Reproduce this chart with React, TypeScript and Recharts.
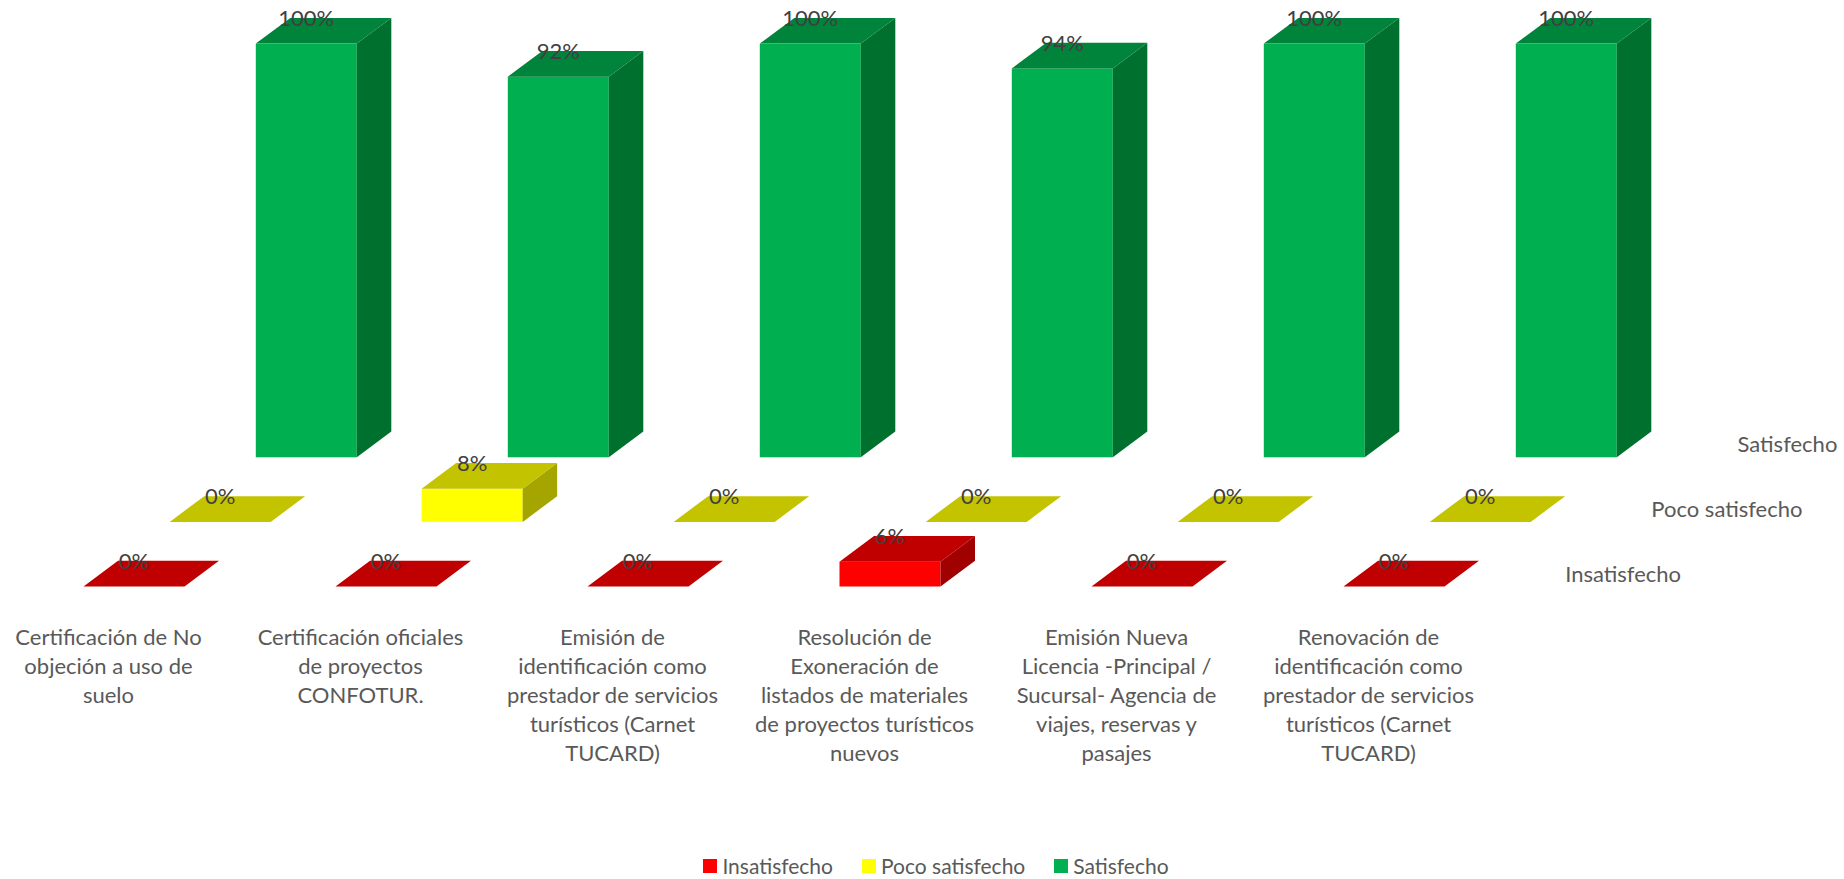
import React from 'react';
import { BarChart, Bar, XAxis, YAxis, LabelList, Legend } from 'recharts';

const categories = [
  'Certificación de No objeción a uso de suelo',
  'Certificación oficiales de proyectos CONFOTUR.',
  'Emisión de identificación como prestador de servicios turísticos (Carnet TUCARD)',
  'Resolución de Exoneración de listados de materiales de proyectos turísticos nuevos',
  'Emisión Nueva Licencia -Principal / Sucursal- Agencia de viajes, reservas y pasajes',
  'Renovación de identificación como prestador de servicios turísticos (Carnet TUCARD)',
];

const tickLines = [
  ['Certificación de No', 'objeción a uso de', 'suelo'],
  ['Certificación oficiales', 'de proyectos', 'CONFOTUR.'],
  ['Emisión de', 'identificación como', 'prestador de servicios', 'turísticos (Carnet', 'TUCARD)'],
  ['Resolución de', 'Exoneración de', 'listados de materiales', 'de proyectos turísticos', 'nuevos'],
  ['Emisión Nueva', 'Licencia -Principal /', 'Sucursal- Agencia de', 'viajes, reservas y', 'pasajes'],
  ['Renovación de', 'identificación como', 'prestador de servicios', 'turísticos (Carnet', 'TUCARD)'],
];

const insatisfecho = [0, 0, 0, 0.06, 0, 0];
const pocoSatisfecho = [0, 0.08, 0, 0, 0, 0];
const satisfecho = [1, 0.92, 1, 0.94, 1, 1];

const seriesNames = ['Insatisfecho', 'Poco satisfecho', 'Satisfecho'];

const data = categories.map((c, i) => ({
  name: c,
  ins: insatisfecho[i],
  poco: pocoSatisfecho[i],
  sat: satisfecho[i],
}));

const FONT = 'Lato, "Open Sans", sans-serif';
const DX = 34.5;
const DY = 25.7;

const COLORS = {
  ins: { front: '#FF0000', top: '#C00000', side: '#A00000' },
  poco: { front: '#FFFF00', top: '#C3C300', side: '#A5A500' },
  sat: { front: '#00B050', top: '#00833A', side: '#00702F' },
};

function make3D(c: { front: string; top: string; side: string }) {
  return (props: any) => {
    const x = Number(props.x);
    const y = Number(props.y);
    const w = Number(props.width);
    const h = Math.max(0, Number(props.height) || 0);
    return (
      <g>
        {h > 0 && <rect x={x} y={y} width={w} height={h} fill={c.front} />}
        {h > 0 && (
          <polygon
            points={`${x + w},${y} ${x + w + DX},${y - DY} ${x + w + DX},${y + h - DY} ${x + w},${y + h}`}
            fill={c.side}
          />
        )}
        <polygon
          points={`${x},${y} ${x + DX},${y - DY} ${x + w + DX},${y - DY} ${x + w},${y}`}
          fill={c.top}
        />
      </g>
    );
  };
}

const valueLabel = (props: any) => {
  const vb = props.viewBox && props.viewBox.width !== undefined ? props.viewBox : props;
  const x = Number(vb.x);
  const y = Number(vb.y);
  const w = Number(vb.width);
  const v = Number(props.value);
  return (
    <text x={x + w / 2} y={y - 17.8} textAnchor="middle" fill="#404040" fontSize={22} fontFamily={FONT}>
      {`${Math.round(v * 100)}%`}
    </text>
  );
};

function depthLabel(name: string) {
  return (props: any) => {
    if (props.index !== categories.length - 1) return null;
    const vb = props.viewBox && props.viewBox.width !== undefined ? props.viewBox : props;
    const x = Number(vb.x);
    const y = Number(vb.y);
    const h = Math.max(0, Number(vb.height) || 0);
    return (
      <text x={x + 221.7} y={y + h - 5} textAnchor="start" fill="#595959" fontSize={22} fontFamily={FONT}>
        {name}
      </text>
    );
  };
}

const CategoryTick = (props: any) => {
  const { x, y, payload } = props;
  const idx = categories.indexOf(payload.value);
  const lines = tickLines[idx] || [String(payload.value)];
  return (
    <text textAnchor="middle" fill="#595959" fontSize={22} fontFamily={FONT}>
      {lines.map((l, i) => (
        <tspan key={i} x={x - 25} y={y + 58 + i * 29}>
          {l}
        </tspan>
      ))}
    </text>
  );
};

const legendItems = [
  { name: seriesNames[0], color: COLORS.ins.front },
  { name: seriesNames[1], color: COLORS.poco.front },
  { name: seriesNames[2], color: COLORS.sat.front },
];

const LegendContent = () => (
  <div
    style={{
      height: 30,
      boxSizing: 'border-box',
      paddingTop: 4,
      display: 'flex',
      justifyContent: 'center',
      alignItems: 'center',
      paddingLeft: 28,
      fontFamily: FONT,
      fontSize: 21,
      color: '#595959',
    }}
  >
    {legendItems.map((it, i) => (
      <div key={i} style={{ display: 'flex', alignItems: 'center', marginLeft: i === 0 ? 0 : 29 }}>
        <div style={{ width: 14, height: 14, background: it.color, marginRight: 5 }} />
        <span style={{ lineHeight: '26px' }}>{it.name}</span>
      </div>
    ))}
  </div>
);

export default function App() {
  return (
    <div style={{ position: 'absolute', left: 0, top: 0, width: 1844, height: 879, background: '#fff' }}>
      <BarChart width={1844} height={879} data={data} margin={{ top: 43.6, right: 0, bottom: 0, left: 0 }}>
        <XAxis
          xAxisId="ins"
          dataKey="name"
          type="category"
          padding={{ left: 7.5, right: 324.5 }}
          axisLine={false}
          tickLine={false}
          tickSize={0}
          tickMargin={0}
          height={262.5}
          interval={0}
          tick={<CategoryTick />}
        />
        <XAxis xAxisId="poco" dataKey="name" type="category" padding={{ left: 93.65, right: 238.35 }} hide />
        <XAxis xAxisId="sat" dataKey="name" type="category" padding={{ left: 179.8, right: 152.2 }} hide />
        <YAxis yAxisId="ins" type="number" domain={[0, 1]} padding={{ top: 129.2, bottom: 0 }} hide />
        <YAxis yAxisId="poco" type="number" domain={[0, 1]} padding={{ top: 64.6, bottom: 64.6 }} hide />
        <YAxis yAxisId="sat" type="number" domain={[0, 1]} padding={{ top: 0, bottom: 129.2 }} hide />
        <Legend verticalAlign="bottom" content={<LegendContent />} />
        <Bar
          xAxisId="sat"
          yAxisId="sat"
          dataKey="sat"
          name={seriesNames[2]}
          barSize={101}
          fill={COLORS.sat.front}
          shape={make3D(COLORS.sat)}
          isAnimationActive={false}
        >
          <LabelList dataKey="sat" content={valueLabel} />
          <LabelList dataKey="sat" content={depthLabel(seriesNames[2])} />
        </Bar>
        <Bar
          xAxisId="poco"
          yAxisId="poco"
          dataKey="poco"
          name={seriesNames[1]}
          barSize={101}
          fill={COLORS.poco.front}
          shape={make3D(COLORS.poco)}
          isAnimationActive={false}
        >
          <LabelList dataKey="poco" content={valueLabel} />
          <LabelList dataKey="poco" content={depthLabel(seriesNames[1])} />
        </Bar>
        <Bar
          xAxisId="ins"
          yAxisId="ins"
          dataKey="ins"
          name={seriesNames[0]}
          barSize={101}
          fill={COLORS.ins.front}
          shape={make3D(COLORS.ins)}
          isAnimationActive={false}
        >
          <LabelList dataKey="ins" content={valueLabel} />
          <LabelList dataKey="ins" content={depthLabel(seriesNames[0])} />
        </Bar>
      </BarChart>
    </div>
  );
}
